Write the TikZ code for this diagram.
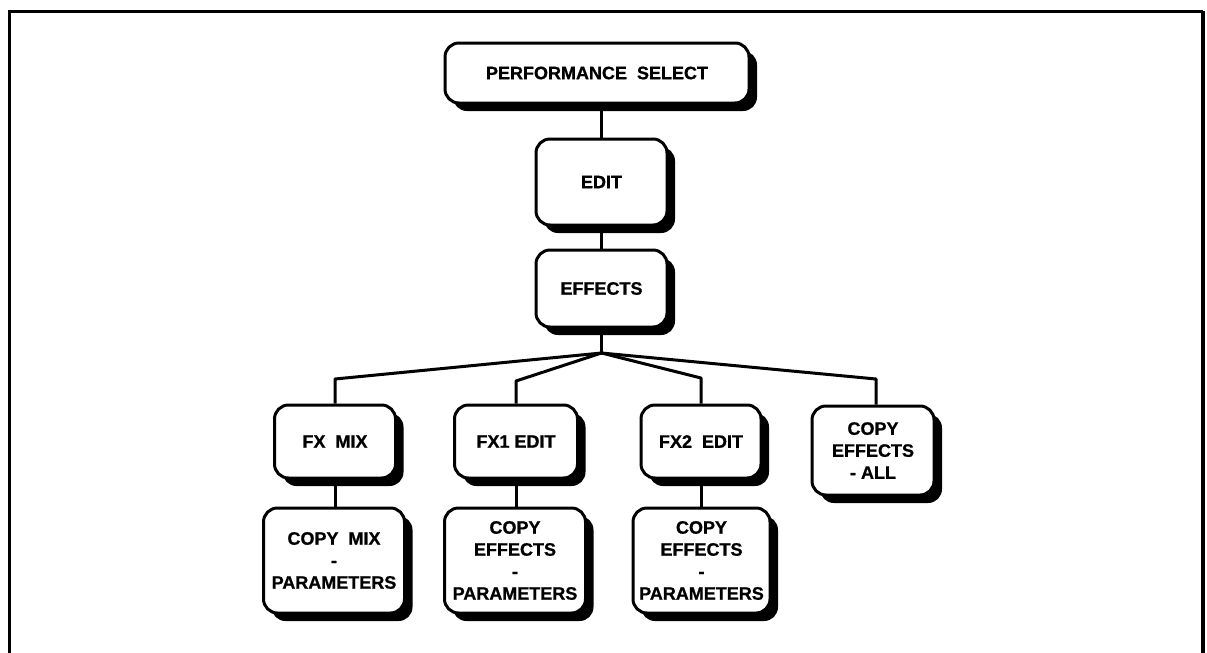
\documentclass[tikz,border=0pt]{standalone}
\usepackage{fontspec}
\setmainfont{Liberation Sans}[BoldFeatures={FakeBold=0.8}]
\usetikzlibrary{shadows}
\tikzset{
  menubox/.style={draw, line width=3pt, rounded corners=14pt, fill=white,
    align=center, inner sep=0pt,
    font=\fontsize{18}{22}\selectfont\bfseries,
    drop shadow={shadow xshift=8pt, shadow yshift=-8pt, opacity=1, fill=black}},
  link/.style={line width=3pt},
  frame/.style={line width=3pt}
}
\begin{document}
\begin{tikzpicture}[x=1pt,y=-1pt]
\useasboundingbox (0,0) rectangle (1207,653);
% frame
\draw[frame] (9,653) -- (9,11) -- (1203,11);
\draw[line width=4.5pt] (1203,11) -- (1203,653);
% boxes
\node[menubox, minimum width=304pt, minimum height=60pt] (perf) at (597,73) {PERFORMANCE\ \ SELECT};
\node[menubox, minimum width=131pt, minimum height=86pt] (edit) at (601.5,182) {EDIT};
\node[menubox, minimum width=131pt, minimum height=77pt] (effects) at (601.5,288.5) {EFFECTS};
\node[menubox, minimum width=121pt, minimum height=73pt] (fxmix) at (335,441.5) {FX\ \ MIX};
\node[menubox, minimum width=123pt, minimum height=73pt] (fxone) at (516,441.5) {FX1 EDIT};
\node[menubox, minimum width=120pt, minimum height=73pt] (fxtwo) at (701,441.5) {FX2\ \ EDIT};
\node[menubox, minimum width=122pt, minimum height=89pt] (all) at (873,450.5) {COPY\\EFFECTS\\- ALL};
\node[menubox, minimum width=141pt, minimum height=105pt] (copymix) at (334,560.5) {COPY\ \ MIX\\-\\PARAMETERS};
\node[menubox, minimum width=141pt, minimum height=105pt] (copyone) at (515,560.5) {COPY\\EFFECTS\\-\\PARAMETERS};
\node[menubox, minimum width=137pt, minimum height=105pt] (copytwo) at (701.5,560.5) {COPY\\EFFECTS\\-\\PARAMETERS};
% connectors
\draw[link] (perf.south -| edit.north) -- (edit.north);
\draw[link] (edit.south) -- (effects.north);
\coordinate (br) at (601.5,353);
\coordinate (c1) at (335,379);
\coordinate (c2) at (516,381);
\coordinate (c3) at (701,378);
\coordinate (c4) at (876,379);
\draw[link] (effects.south) -- (br);
\draw[link, line join=round] (br) -- (c1) -- (c1 |- fxmix.north);
\draw[link, line join=round] (br) -- (c2) -- (c2 |- fxone.north);
\draw[link, line join=round] (br) -- (c3) -- (c3 |- fxtwo.north);
\draw[link, line join=round] (br) -- (c4) -- (c4 |- all.north);
\draw[link] (fxmix.south) -- (fxmix.south |- copymix.north);
\draw[link] (fxone.south) -- (fxone.south |- copyone.north);
\draw[link] (fxtwo.south) -- (fxtwo.south |- copytwo.north);
\end{tikzpicture}
\end{document}
